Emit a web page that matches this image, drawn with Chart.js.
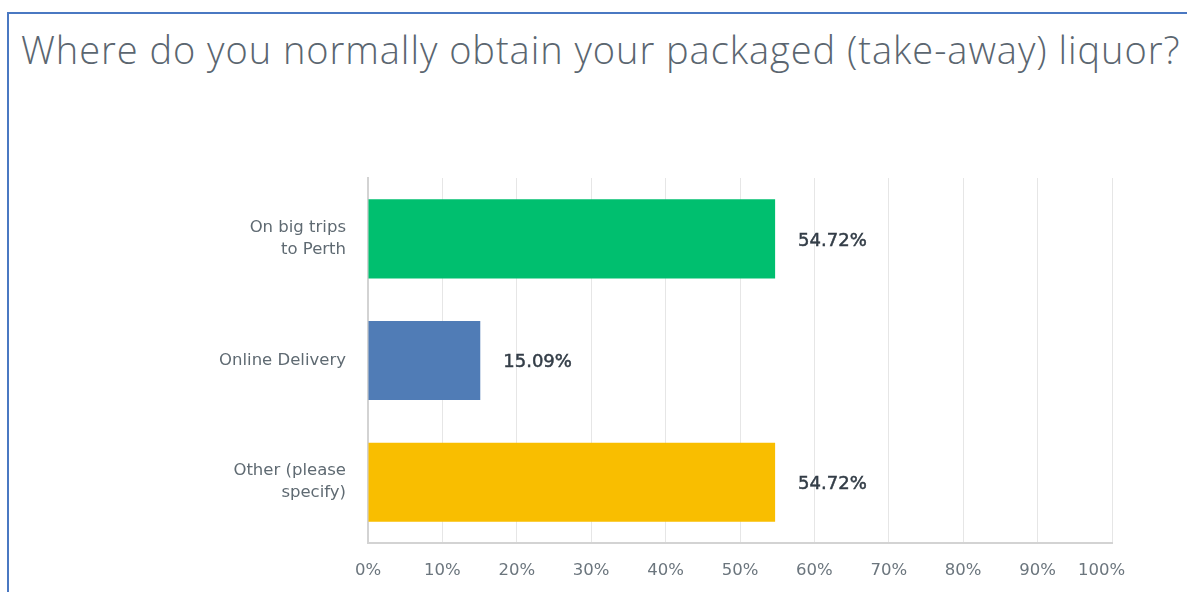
<!DOCTYPE html>
<html>
<head>
<meta charset="utf-8">
<script src="https://cdn.jsdelivr.net/npm/chart.js@4"></script>
<style>
    html, body { margin: 0; padding: 0; background: #fff; }
    #frame {
        position: absolute; left: 7px; top: 12px; right: -4px; bottom: -4px;
        border-top: 2px solid #4a78c2; border-left: 2px solid #4a78c2;
    }
    #title {
        position: absolute; left: 21px; top: 23px; white-space: nowrap;
        font-family: "Open Sans", sans-serif; font-weight: 300; font-size: 38px;
        letter-spacing: 0.95px; color: #5b6670;
    }
    #wrap { position: absolute; left: 0; top: 0; width: 1187px; height: 592px; }
</style>
</head>
<body>
<div id="frame"></div>
<div id="title">Where do you normally obtain your packaged (take-away) liquor?</div>
<div id="wrap"><canvas id="chart"></canvas></div>
<script>
// Answer choices and the share of respondents for each
const categories = [["On big trips", "to Perth"], ["Online Delivery"], ["Other (please", "specify)"]];
const percentages = [54.72, 15.09, 54.72];
const barColors = ['#00bf6f', '#507cb6', '#f9be00'];
const xTicks = [0, 10, 20, 30, 40, 50, 60, 70, 80, 90, 100];

// Writes the percentage to the right of each bar
const valueLabels = {
    id: 'valueLabels',
    afterDatasetsDraw(chart) {
        const ctx = chart.ctx;
        const meta = chart.getDatasetMeta(0);
        ctx.save();
        ctx.font = '18px "DejaVu Sans", sans-serif';
        ctx.fillStyle = '#333d47';
        ctx.strokeStyle = '#333d47';
        ctx.lineWidth = 0.5;
        ctx.textBaseline = 'middle';
        ctx.textAlign = 'left';
        meta.data.forEach((bar, i) => {
            const txt = percentages[i].toFixed(2) + '%';
            ctx.fillText(txt, bar.x + 23, bar.y + 2);
            ctx.strokeText(txt, bar.x + 23, bar.y + 2);
        });
        ctx.restore();
    }
};

new Chart(document.getElementById('chart'), {
    type: 'bar',
    data: {
        labels: categories,
        datasets: [{
            data: percentages,
            backgroundColor: barColors,
            borderWidth: 0,
            barPercentage: 0.65,
            categoryPercentage: 1
        }]
    },
    options: {
        indexAxis: 'y',
        responsive: true,
        maintainAspectRatio: false,
        animation: false,
        layout: { padding: { top: 178, right: 75, left: 0, bottom: 0 } },
        plugins: { legend: { display: false }, tooltip: { enabled: false } },
        scales: {
            x: {
                min: 0, max: 100,
                afterBuildTicks: s => { s.ticks = xTicks.map(v => ({ value: v })); },
                afterFit: s => { s.height = 49; },
                ticks: {
                    padding: 18,
                    color: '#6b757d',
                    font: { family: 'DejaVu Sans', size: 16.5 },
                    // the last label sits a little left of its gridline
                    callback: v => v === 100 ? '100%    ' : v + '%'
                },
                grid: { color: '#e6e6e6', drawTicks: false },
                border: { color: '#d3d3d3', width: 2 }
            },
            y: {
                afterFit: s => { s.width = 368; },
                ticks: {
                    padding: 22,
                    color: '#5f6a72',
                    font: { family: 'DejaVu Sans', size: 16.5, lineHeight: 1.33 }
                },
                grid: { display: false, drawTicks: false },
                border: { color: '#d3d3d3', width: 2 }
            }
        }
    },
    plugins: [valueLabels]
});
</script>
</body>
</html>
